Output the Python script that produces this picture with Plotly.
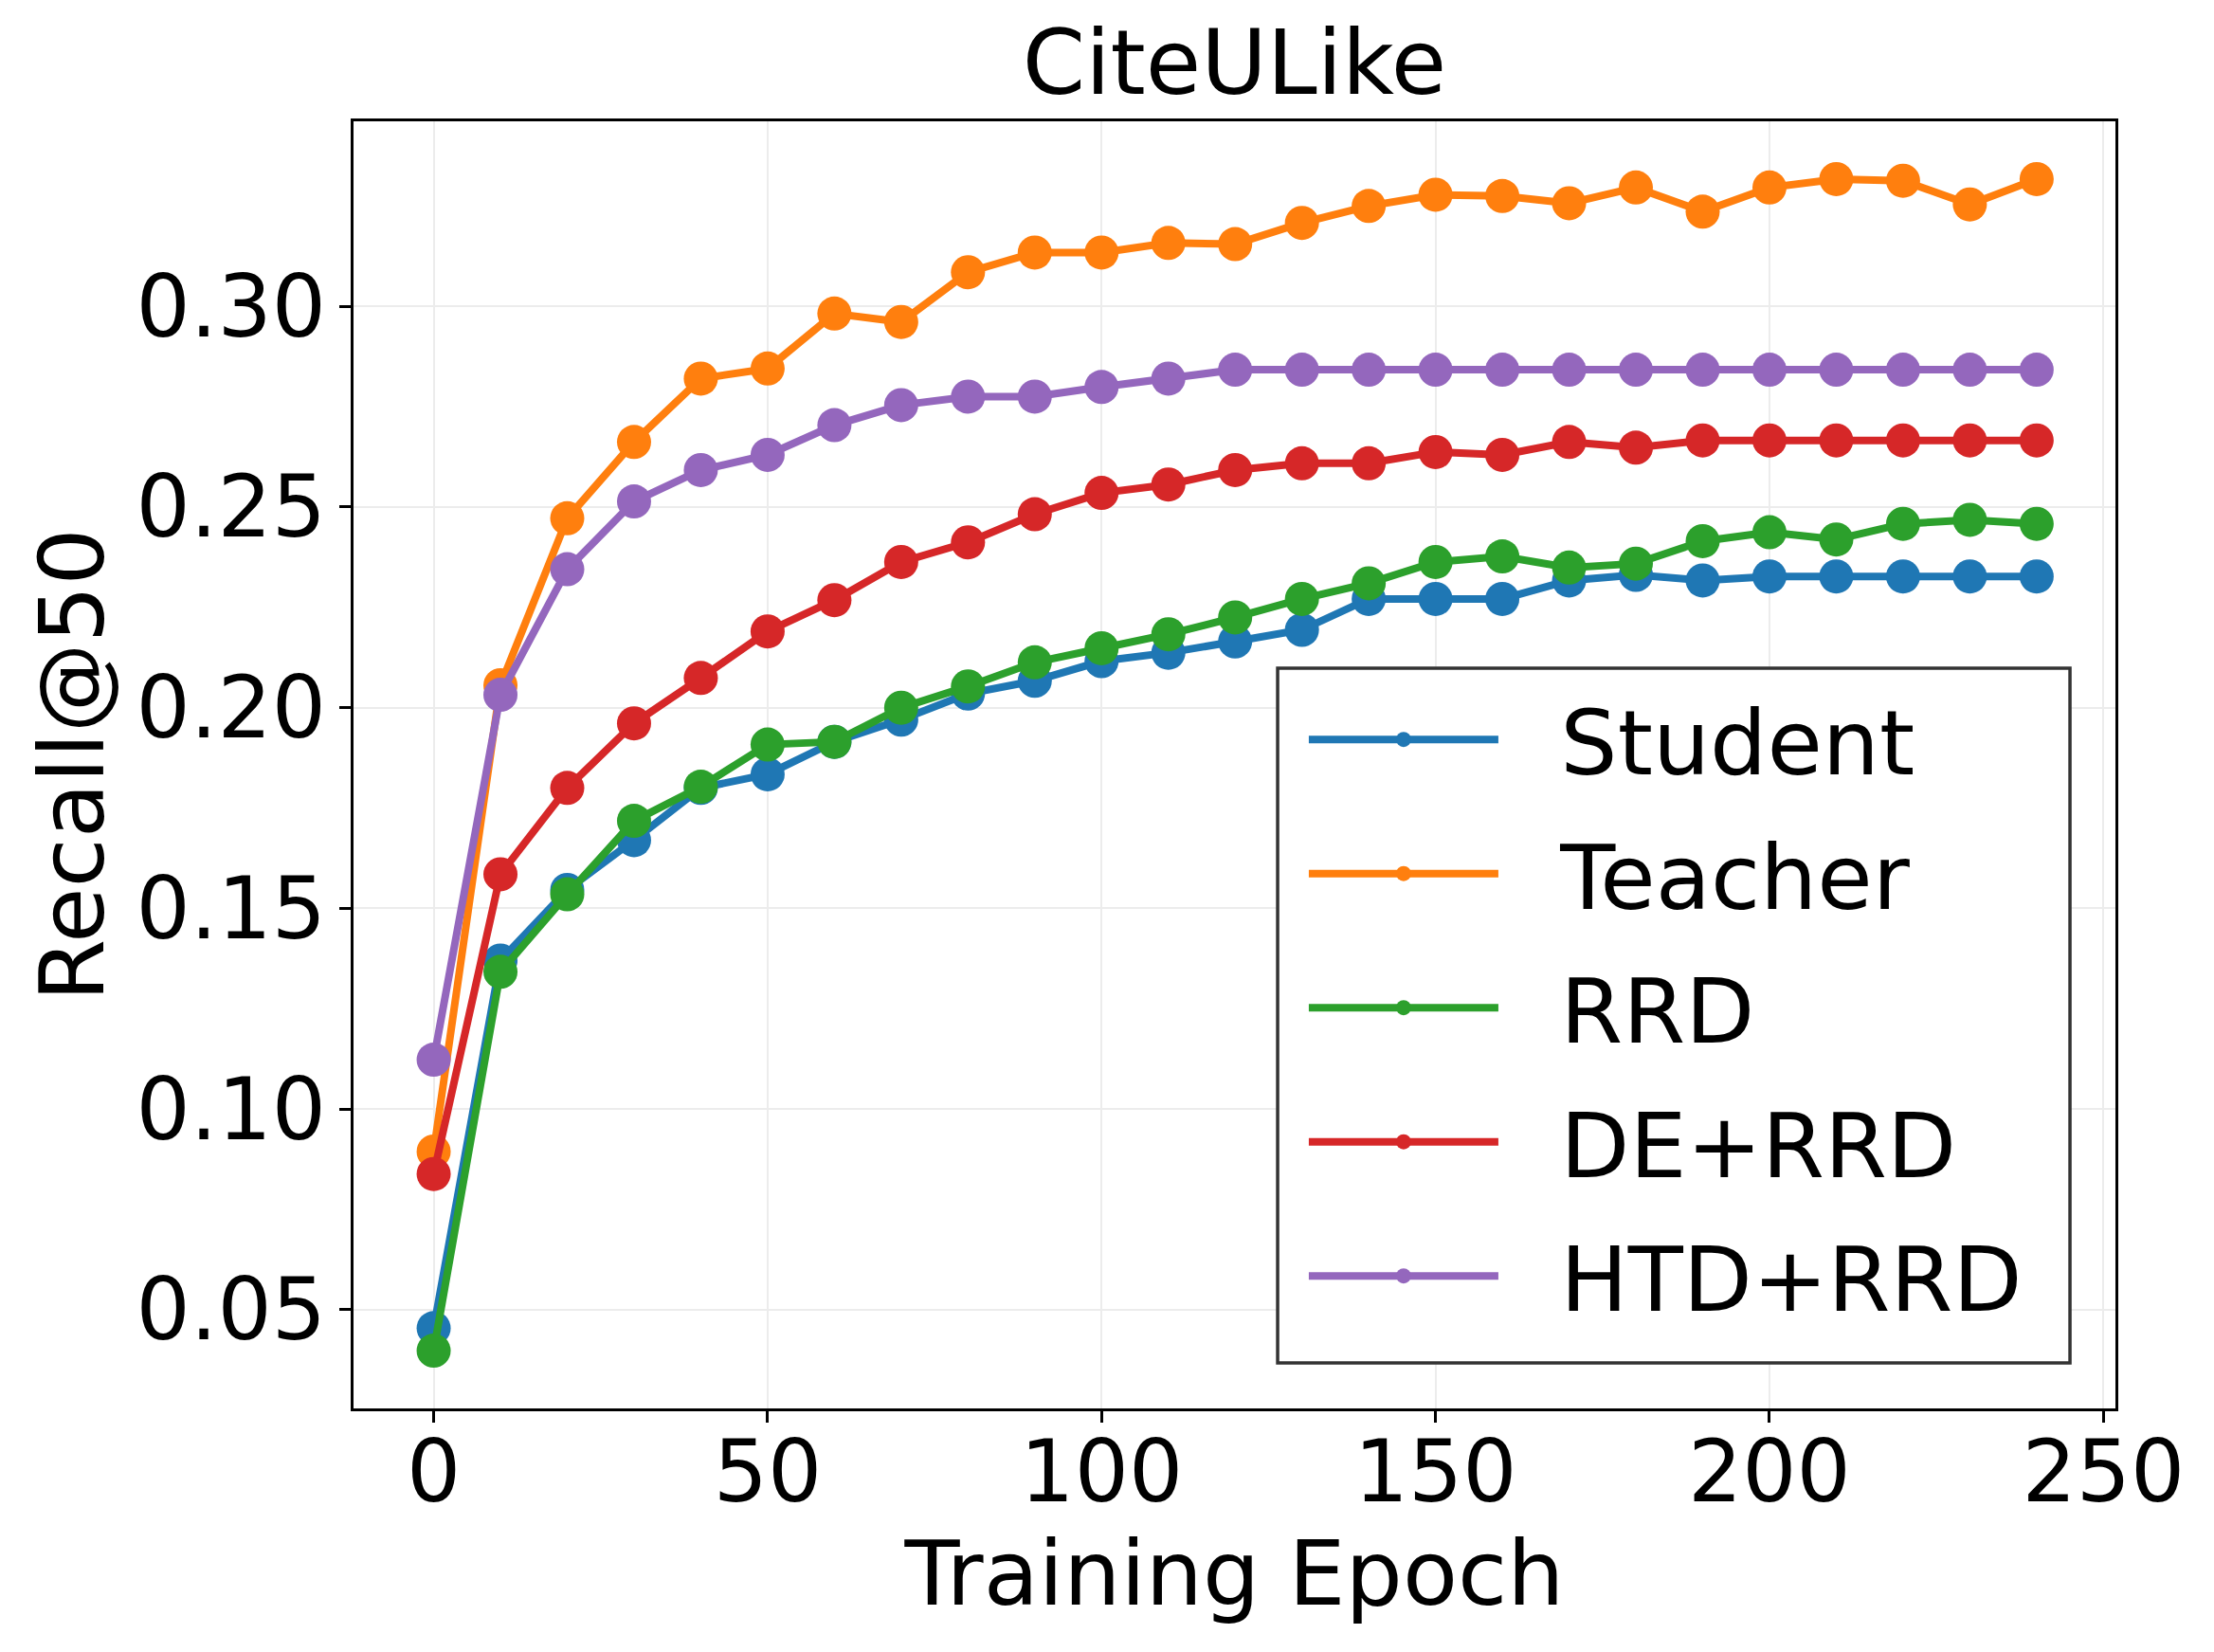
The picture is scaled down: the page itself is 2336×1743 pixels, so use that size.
import plotly.graph_objects as go

epochs = list(range(0, 250, 10))

student = [0.0454, 0.137, 0.1546, 0.167, 0.180, 0.1834, 0.1915, 0.197, 0.2035, 0.2067,
           0.2116, 0.2137, 0.2165, 0.2194, 0.2271, 0.2271, 0.2271, 0.2317, 0.2331, 0.2317,
           0.2327, 0.2327, 0.2327, 0.2327, 0.2327]
teacher = [0.0894, 0.2056, 0.2472, 0.2662, 0.282, 0.2845, 0.2982, 0.2961, 0.3085, 0.3134,
           0.3134, 0.3158, 0.3155, 0.3208, 0.325, 0.3278, 0.3275, 0.3257, 0.3296, 0.3236,
           0.3296, 0.3317, 0.3313, 0.3254, 0.3317]
rrd = [0.0398, 0.1342, 0.1535, 0.1718, 0.1803, 0.1908, 0.1915, 0.200, 0.2053, 0.2113,
       0.2148, 0.2183, 0.2225, 0.2271, 0.231, 0.2363, 0.2377, 0.2349, 0.2359, 0.2415,
       0.2437, 0.2419, 0.2458, 0.2468, 0.2458]
de_rrd = [0.0838, 0.1585, 0.180, 0.1961, 0.2074, 0.219, 0.2268, 0.2363, 0.2412, 0.2482,
          0.2535, 0.2556, 0.2592, 0.2609, 0.2609, 0.2637, 0.263, 0.2662, 0.2648, 0.2666,
          0.2666, 0.2666, 0.2666, 0.2666, 0.2666]
htd_rrd = [0.1123, 0.2032, 0.2345, 0.2514, 0.2592, 0.263, 0.2704, 0.2754, 0.2775, 0.2775,
           0.2799, 0.282, 0.2842, 0.2842, 0.2842, 0.2842, 0.2842, 0.2842, 0.2842, 0.2842,
           0.2842, 0.2842, 0.2842, 0.2842, 0.2842]

series_names = ["Student", "Teacher", "RRD", "DE+RRD", "HTD+RRD"]
series_values = [student, teacher, rrd, de_rrd, htd_rrd]
colors = ["#1f77b4", "#ff7f0e", "#2ca02c", "#d62728", "#9467bd"]

x_ticks = [0, 50, 100, 150, 200, 250]
y_ticks = [0.05, 0.10, 0.15, 0.20, 0.25, 0.30]

FONT = "DejaVu Sans"
# page body keeps its 8px margin, so the figure is a bit smaller than the window
W, H = 2320, 1727

fig = go.Figure()
for name, values, color in zip(series_names, series_values, colors):
    fig.add_trace(
        go.Scatter(
            x=epochs,
            y=values,
            name="\u00a0\u00a0" + name,
            legendgroup=name,
            mode="lines+markers",
            line=dict(color=color, width=8),
            marker=dict(color=color, size=36),
        )
    )

axis_common = dict(
    showline=True,
    linecolor="black",
    linewidth=3,
    mirror=True,
    ticks="outside",
    ticklen=12,
    tickwidth=3,
    tickcolor="black",
    showgrid=True,
    gridcolor="#ececec",
    gridwidth=1.5,
    zeroline=False,
    tickfont=dict(family=FONT, size=90, color="black"),
    automargin=False,
)

fig.update_xaxes(
    range=[-12, 251.8],
    tickvals=x_ticks,
    ticktext=[str(t) for t in x_ticks],
    ticklabelstandoff=-25,
    title=dict(text="Training Epoch", font=dict(family=FONT, size=95, color="black"), standoff=20),
    **axis_common,
)
fig.update_yaxes(
    range=[0.0254, 0.3461],
    tickvals=y_ticks,
    ticktext=[f"{t:.2f}" for t in y_ticks],
    ticklabelstandoff=-4,
    title=dict(text="Recall@50", font=dict(family=FONT, size=95, color="black"), standoff=3),
    **axis_common,
)

# legend frame drawn as a shape so its box can match the reference size
fig.add_shape(
    type="rect",
    xref="paper",
    yref="paper",
    x0=0.5245,
    x1=0.9742,
    y0=0.0353,
    y1=0.5751,
    fillcolor="white",
    line=dict(color="#333333", width=3.5),
    layer="above",
)

fig.update_layout(
    width=W,
    height=H,
    paper_bgcolor="white",
    plot_bgcolor="white",
    margin=dict(l=365, r=96, t=120, b=249),
    font=dict(family=FONT, color="black"),
    title=dict(
        text="CiteULike",
        font=dict(family=FONT, size=95, color="black"),
        x=0.5,
        xref="paper",
        y=1 - 58 / H,
        yanchor="middle",
    ),
    legend=dict(
        x=0.5395,
        xanchor="left",
        y=0.570,
        yanchor="top",
        bgcolor="rgba(0,0,0,0)",
        borderwidth=0,
        font=dict(family=FONT, size=95, color="black"),
        traceorder="grouped",
        tracegroupgap=15,
        itemwidth=200,
    ),
)

fig.write_html("out.html")
